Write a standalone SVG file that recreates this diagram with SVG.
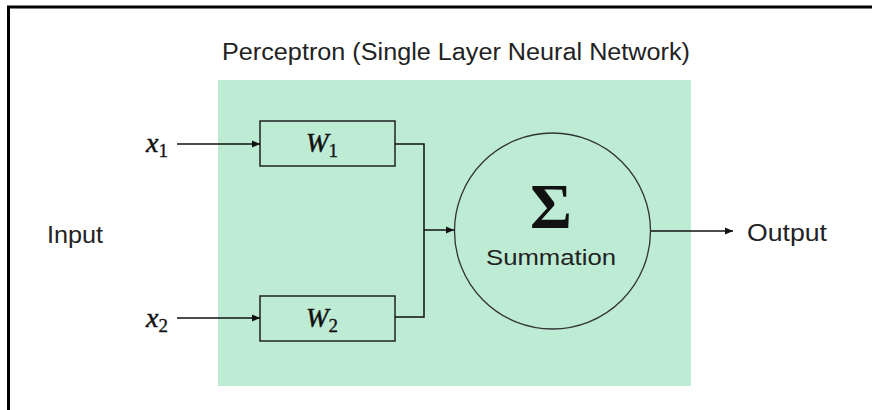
<svg xmlns="http://www.w3.org/2000/svg" width="872" height="410" viewBox="0 0 872 410">
<style>
.lbl{font-family:"Liberation Sans",Arial,sans-serif;fill:#222;}
.math{font-family:"Liberation Serif","DejaVu Serif",serif;fill:#111;font-style:italic;stroke:#111;stroke-width:0.5;}
.sub{font-family:"Liberation Serif","DejaVu Serif",serif;fill:#111;stroke:#111;stroke-width:0.3;}
.box{fill:none;stroke:#222;stroke-width:1.5;}
.wire{fill:none;stroke:#111;stroke-width:1.5;}
</style>
<defs>
<marker id="ah" viewBox="0 0 10 10" refX="10" refY="5" markerWidth="8" markerHeight="8" markerUnits="userSpaceOnUse" orient="auto">
<path d="M0,0.5 L10,5 L0,9.5 z" fill="#111"/>
</marker>
</defs>
<rect width="872" height="410" fill="#fff"/>
<path d="M8.5,410 V7 H872" fill="none" stroke="#000" stroke-width="3"/>
<g id="panel">
<rect x="218" y="80" width="473" height="306" fill="#bdebd4"/>
<text class="lbl" x="222" y="60" font-size="23" textLength="468" lengthAdjust="spacingAndGlyphs">Perceptron (Single Layer Neural Network)</text>
</g>
<g id="input-label"><text class="lbl" x="47" y="243" font-size="23" textLength="56" lengthAdjust="spacingAndGlyphs">Input</text></g>
<g id="x1"><text x="146" y="152"><tspan class="math" font-size="28">x</tspan><tspan class="sub" font-size="19" dy="5">1</tspan></text></g>
<g id="x2"><text x="146" y="327"><tspan class="math" font-size="28">x</tspan><tspan class="sub" font-size="19" dy="5">2</tspan></text></g>
<g id="w1">
<rect class="box" x="260" y="121" width="135" height="45"/>
<text x="306" y="152"><tspan class="math" font-size="27">W</tspan><tspan class="sub" font-size="19" dy="5">1</tspan></text>
</g>
<g id="w2">
<rect class="box" x="260" y="296" width="135" height="45"/>
<text x="306" y="327"><tspan class="math" font-size="27">W</tspan><tspan class="sub" font-size="19" dy="5">2</tspan></text>
</g>
<g id="sum">
<circle cx="552.5" cy="231" r="98" fill="none" stroke="#333" stroke-width="1.3"/>
<text x="551" y="228" font-family="'Liberation Serif',serif" font-size="64" font-weight="bold" text-anchor="middle" fill="#111">Σ</text>
<text class="lbl" x="486" y="265" font-size="22" textLength="130" lengthAdjust="spacingAndGlyphs">Summation</text>
</g>
<g id="output-label"><text class="lbl" x="747" y="241" font-size="24" textLength="80" lengthAdjust="spacingAndGlyphs">Output</text></g>
<g id="connectors">
<path class="wire" d="M177,144 H260" marker-end="url(#ah)"/>
<path class="wire" d="M177,318 H260" marker-end="url(#ah)"/>
<path class="wire" d="M395,144 H424 V317 H395"/>
<path class="wire" d="M424,230 H454" marker-end="url(#ah)"/>
<path class="wire" d="M651,231 H733" marker-end="url(#ah)"/>
</g>
</svg>
